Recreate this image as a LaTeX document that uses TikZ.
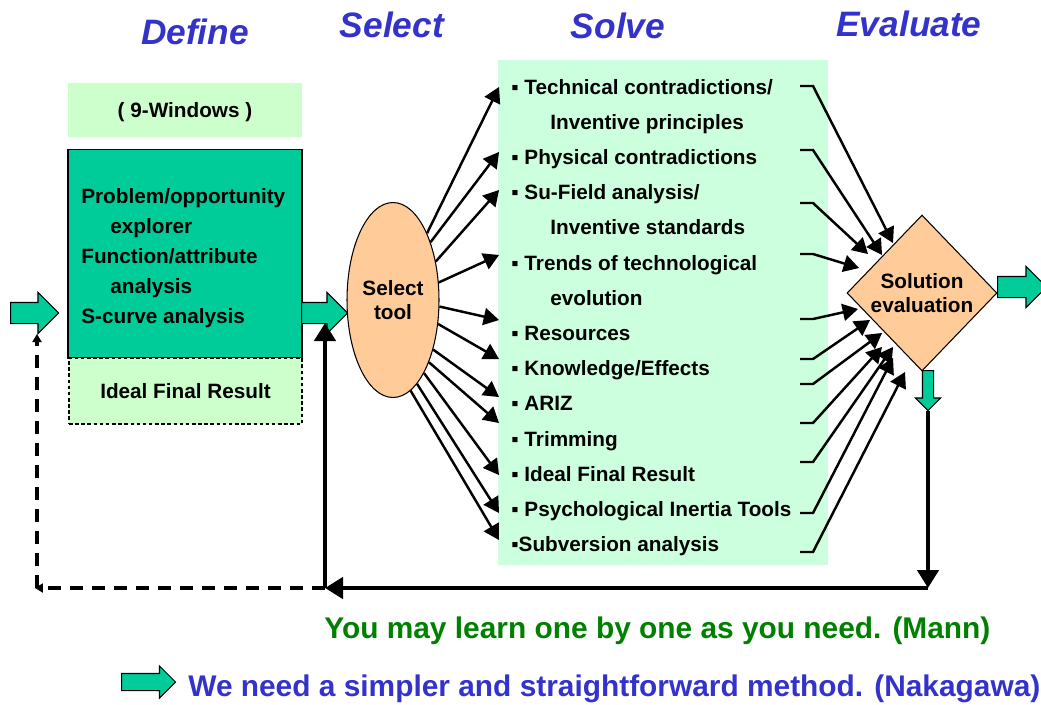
\documentclass[tikz,border=0pt]{standalone}
\usepackage{fontspec}
\setmainfont{Liberation Sans}
\usetikzlibrary{arrows,arrows.meta}
\usetikzlibrary{shapes.geometric,shapes.arrows}

\definecolor{boxgreen}{HTML}{00CC99}
\definecolor{palegreen}{HTML}{CCFFCC}
\definecolor{mintgreen}{HTML}{CCFFDD}
\definecolor{peach}{HTML}{FFCC99}
\definecolor{headblue}{HTML}{3333CC}
\definecolor{quotegreen}{HTML}{008000}

\newcommand{\bodyfont}{\fontsize{11.8}{14}\selectfont\bfseries}
\newcommand{\headfont}{\fontsize{20.1}{24}\selectfont\bfseries\itshape}
\newcommand{\notefont}{\fontsize{17}{20}\selectfont\bfseries}

\tikzset{
  heading/.style={anchor=base, text=headblue, font=\headfont},
  item/.style={anchor=base west, font=\bodyfont, inner sep=0pt},
  blockarrow/.style={single arrow, draw=black, line width=0.6pt, fill=boxgreen, inner sep=0.2cm,
    single arrow head extend=0.2cm, minimum height=#1, anchor=tail},
  thinarrow/.style={-triangle 60, line width=1.4pt},
  loopline/.style={-{Triangle[length=0.36cm,width=0.42cm]}, line width=2.8pt},
  dashline/.style={-{Triangle[length=0.16cm,width=0.18cm]}, line width=2.2pt, dash pattern=on 0.26cm off 0.18cm},
}

\begin{document}
\begin{tikzpicture}[x=0.02cm, y=-0.02cm]
  \useasboundingbox (0,0) rectangle (1041,704);
  % headings
  \node[heading] (hdefine) at (195,44) {Define};
  \node[heading] (hselect) at (392,37) {Select};
  \node[heading] (hsolve) at (618,38) {Solve};
  \node[heading] (heval) at (909,36) {Evaluate};

  % Define
  \node[fill=palegreen, minimum width=4.68cm, minimum height=1.08cm, text depth=0pt, font=\bodyfont] (windows) at (185,110) {( 9-Windows )};
  \node[draw, line width=0.6pt, fill=boxgreen, minimum width=4.68cm, minimum height=4.18cm] (define) at (185,253.5) {};
  \node[item] (d1) at (81,203) {Problem/opportunity};
  \node[item] (d2) at (110,233) {explorer};
  \node[item] (d3) at (81,263) {Function/attribute};
  \node[item] (d4) at (110,293) {analysis};
  \node[item] (d5) at (81,323) {S-curve analysis};
  \node[draw, line width=0.6pt, dash pattern=on 2pt off 1.5pt, fill=palegreen, minimum width=4.66cm, minimum height=1.32cm, font=\bodyfont] (ifr) at (185.5,391) {Ideal Final Result};

  % Select
  \node[blockarrow=0.96cm] (inarrow) at (10,313) {};
  \node[blockarrow=0.92cm] (toselect) at (301,313) {};
  \node[ellipse, draw, line width=0.6pt, fill=peach, minimum width=1.84cm, minimum height=3.9cm, inner sep=0pt, align=center, font=\bodyfont] (sel) at (393,300) {Select\\tool};

  % Solve
  \node[fill=mintgreen, minimum width=6.6cm, minimum height=10.1cm] (solve) at (663,312.5) {};
  \node[item] (t1) at (511,94) {▪ Technical contradictions/};
  \node[item] (t1b) at (550,129.2) {Inventive principles};
  \node[item] (t2) at (511,164.4) {▪ Physical contradictions};
  \node[item] (t3) at (511,199.6) {▪ Su-Field analysis/};
  \node[item] (t3b) at (550,234.8) {Inventive standards};
  \node[item] (t4) at (511,270) {▪ Trends of technological};
  \node[item] (t4b) at (550,305.2) {evolution};
  \node[item] (t5) at (511,340.4) {▪ Resources};
  \node[item] (t6) at (511,375.6) {▪ Knowledge/Effects};
  \node[item] (t7) at (511,410.8) {▪ ARIZ};
  \node[item] (t8) at (511,446) {▪ Trimming};
  \node[item] (t9) at (511,481.2) {▪ Ideal Final Result};
  \node[item] (t10) at (511,516.4) {▪ Psychological Inertia Tools};
  \node[item] (t11) at (511,551.6) {▪Subversion analysis};

  % Evaluate
  \node[diamond, draw, line width=0.6pt, fill=peach, minimum width=3cm, minimum height=3.12cm, inner sep=0pt, align=center, font=\bodyfont] (eval) at (922,293) {Solution\\evaluation};
  \node[blockarrow=0.98cm] (outarrow) at (997,287) {};
  \node[blockarrow=0.8cm, inner sep=0.1cm, single arrow head extend=0.14cm, rotate=-90] (down) at (928,370) {};

  % select tool to each tool
  \coordinate (l1) at (499,87);   \coordinate (l2) at (499,152);
  \coordinate (l3) at (499,190);  \coordinate (l4) at (499,255);
  \coordinate (l5) at (499,320);  \coordinate (l6) at (499,359);
  \coordinate (l7) at (499,397);  \coordinate (l8) at (499,423);
  \coordinate (l9) at (499,475);  \coordinate (l10) at (499,513);
  \coordinate (l11) at (499,540);
  \draw[thinarrow] (sel.63) -- (l1);
  \draw[thinarrow] (sel.57) -- (l2);
  \draw[thinarrow] (sel.42) -- (l3);
  \draw[thinarrow] (sel.21) -- (l4);
  \draw[thinarrow] (sel.-8) -- (l5);
  \draw[thinarrow] (sel.-28) -- (l6);
  \draw[thinarrow] (sel.-51) -- (l7);
  \draw[thinarrow] (sel.-60) -- (l8);
  \draw[thinarrow] (sel.-67) -- (l9);
  \draw[thinarrow] (sel.-74) -- (l10);
  \draw[thinarrow] (sel.-79) -- (l11);

  % each tool to solution evaluation
  \coordinate (r1) at (800,86);   \coordinate (e1) at (893,243);
  \coordinate (r2) at (800,150);  \coordinate (e2) at (882,255);
  \coordinate (r3) at (800,203);  \coordinate (e3) at (868,254);
  \coordinate (r4) at (800,254);  \coordinate (e4) at (859,268);
  \coordinate (r5) at (800,319);  \coordinate (e5) at (858,309);
  \coordinate (r6) at (800,359);  \coordinate (e6) at (870,320);
  \coordinate (r7) at (800,384);  \coordinate (e7) at (882,333);
  \coordinate (r8) at (800,423);  \coordinate (e8) at (882,347);
  \coordinate (r9) at (800,462);  \coordinate (e9) at (893,347);
  \coordinate (r10) at (800,513); \coordinate (e10) at (893,358);
  \coordinate (r11) at (800,552); \coordinate (e11) at (905,372);
  \draw[thinarrow] (r1) -- ++(13,0) -- (e1);
  \draw[thinarrow] (r2) -- ++(13,0) -- (e2);
  \draw[thinarrow] (r3) -- ++(13,0) -- (e3);
  \draw[thinarrow] (r4) -- ++(13,0) -- (e4);
  \draw[thinarrow] (r5) -- ++(13,0) -- (e5);
  \draw[thinarrow] (r6) -- ++(13,0) -- (e6);
  \draw[thinarrow] (r7) -- ++(13,0) -- (e7);
  \draw[thinarrow] (r8) -- ++(13,0) -- (e8);
  \draw[thinarrow] (r9) -- ++(13,0) -- (e9);
  \draw[thinarrow] (r10) -- ++(13,0) -- (e10);
  \draw[thinarrow] (r11) -- ++(13,0) -- (e11);

  % feedback loop
  \coordinate (c1) at (928,588);
  \coordinate (c2) at (325,588);
  \coordinate (c3) at (35,588);
  \coordinate (c4) at (325,323);
  \coordinate (c5) at (37,334);
  \draw[loopline] (down.tip) -- (c1);
  \draw[loopline] (c1) -- (c2);
  \draw[loopline] (c2) -- (c4);
  \draw[dashline] (c2) -- (c3);
  \draw[dashline] (c3 -| c5) -- (c5);

  % notes
  \node[anchor=base west, inner sep=0pt, font=\notefont, text=quotegreen] (mann) at (324,638) {You may learn one by one as you need. (Mann)};
  \node[blockarrow=1.08cm, inner sep=0.16cm, single arrow head extend=0.15cm] (notearrow) at (121,682) {};
  \node[anchor=base west, inner sep=0pt, font=\notefont, text=headblue] (naka) at (188,696) {We need a simpler and straightforward method. (Nakagawa)};
\end{tikzpicture}
\end{document}
